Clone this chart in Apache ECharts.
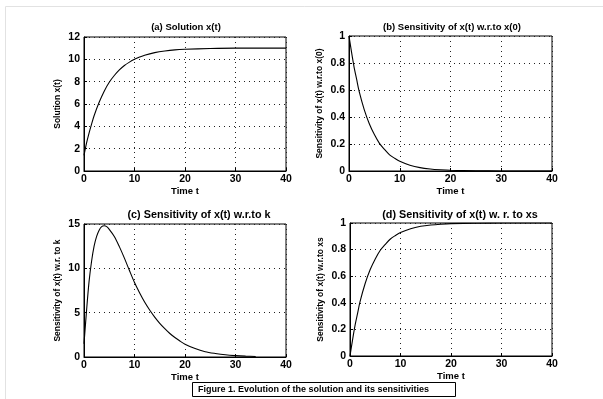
<!DOCTYPE html>
<html>
<head>
<meta charset="utf-8">
<script src="https://cdn.jsdelivr.net/npm/echarts@6/dist/echarts.min.js"></script>
<style>
html,body{margin:0;padding:0;background:#fff;}
#c{width:603px;height:399px;}
</style>
</head>
<body>
<div id="c"></div>
<script>
// ---- data ----
var tA = [0, 0.5, 1, 1.5, 2, 3, 4, 5, 6, 7, 8, 9, 10, 11, 12, 14, 16, 18, 20, 25, 30, 35, 40];
var solA = [1.4, 2.5, 3.4, 4.2, 4.95, 6.15, 7.15, 7.95, 8.55, 9.05, 9.45, 9.75, 10.0, 10.2, 10.37, 10.6, 10.75, 10.85, 10.9, 10.97, 11.0, 11.0, 11.0];

var tB = [0, 0.5, 1, 1.5, 2, 3, 4, 5, 6, 7, 8, 9, 10, 12, 14, 16, 18, 20, 25, 30, 35, 40];
var sensX0 = [1, 0.88, 0.77, 0.68, 0.59, 0.455, 0.35, 0.27, 0.205, 0.16, 0.12, 0.094, 0.072, 0.043, 0.025, 0.015, 0.009, 0.005, 0.0015, 0.0004, 0.0001, 0];

var tC = [0, 0.5, 1, 1.5, 2, 2.5, 3, 3.5, 4, 4.5, 5, 6, 7, 8, 9, 10, 11, 12, 13, 14, 15, 16, 17, 18, 19, 20, 22, 24, 26, 28, 30, 32, 34];
var sensK = [1.5, 5.2, 8.5, 10.8, 12.5, 13.6, 14.3, 14.7, 14.8, 14.7, 14.4, 13.6, 12.45, 11.15, 9.75, 8.4, 7.25, 6.2, 5.3, 4.5, 3.8, 3.2, 2.65, 2.2, 1.8, 1.45, 0.95, 0.6, 0.4, 0.25, 0.16, 0.1, 0.06];

var tD = [0, 0.5, 1, 1.5, 2, 3, 4, 5, 6, 7, 8, 9, 10, 12, 14, 16, 18, 20, 25, 30, 35, 40];
var sensXs = [0, 0.12, 0.23, 0.32, 0.41, 0.545, 0.65, 0.73, 0.795, 0.84, 0.88, 0.906, 0.928, 0.957, 0.975, 0.985, 0.991, 0.995, 0.9985, 0.9996, 0.9999, 1];

var xTicks = [0, 10, 20, 30, 40];
var panelTitles = ['(a) Solution x(t)', '(b) Sensitivity of x(t) w.r.to x(0)', '(c) Sensitivity of x(t) w.r.to k', '(d) Sensitivity of x(t) w. r. to xs'];
var yNames = ['Solution x(t)', 'Sensitivity of x(t) w.r.to x(0)', 'Sensitivity of x(t) w.r. to k', 'Sensitivity of x(t) w.r.to xs'];
var xName = 'Time t';
var caption = 'Figure 1. Evolution of the solution and its sensitivities';

// ---- layout ----
var FONT = '"Liberation Sans", Arial, Helvetica, sans-serif';
var grids = [
  {left: 84, top: 37, width: 202, height: 134},
  {left: 349, top: 36, width: 203, height: 135},
  {left: 84, top: 224, width: 202, height: 133},
  {left: 350, top: 223, width: 202, height: 133}
];
var yRanges = [[0, 12, 2], [0, 1, 0.2], [0, 15, 5], [0, 1, 0.2]];
var yGaps = [22, 25, 22, 25];
var titlePos = [[186, 27, 9.5], [452, 27, 9.5], [199, 215, 10.8], [460, 215, 10.8]];

function zip(t, v) { return t.map(function (x, i) { return [x, v[i]]; }); }
var seriesData = [zip(tA, solA), zip(tB, sensX0), zip(tC, sensK), zip(tD, sensXs)];

var option = {
  animation: false,
  backgroundColor: '#fff',
  grid: grids.map(function (g) {
    return Object.assign({show: true, borderColor: '#000', borderWidth: 1, backgroundColor: '#fff', containLabel: false}, g);
  }),
  xAxis: grids.map(function (g, i) {
    return {
      type: 'value', gridIndex: i, min: 0, max: 40, interval: 10,
      name: xName, nameLocation: 'middle', nameGap: 12,
      nameTextStyle: {fontFamily: FONT, fontWeight: 'bold', fontSize: 9.5, color: '#000'},
      axisLine: {show: true, lineStyle: {color: '#000', width: 1}},
      axisTick: {show: true, inside: true, length: 3, lineStyle: {color: '#000'}},
      axisLabel: {margin: 3, fontFamily: FONT, fontWeight: 'bold', fontSize: 10.5, color: '#000'},
      splitLine: {show: true, lineStyle: {color: '#222', width: 1, type: [1, 4]}}
    };
  }),
  yAxis: grids.map(function (g, i) {
    var r = yRanges[i];
    return {
      type: 'value', gridIndex: i, min: r[0], max: r[1], interval: r[2],
      name: yNames[i], nameLocation: 'middle', nameGap: yGaps[i], nameRotate: 90,
      nameTextStyle: {fontFamily: FONT, fontWeight: 'bold', fontSize: 8.5, color: '#000'},
      axisLine: {show: true, lineStyle: {color: '#000', width: 1}},
      axisTick: {show: true, inside: true, length: 3, lineStyle: {color: '#000'}},
      axisLabel: {margin: 4, fontFamily: FONT, fontWeight: 'bold', fontSize: 10.5, color: '#000'},
      splitLine: {show: true, lineStyle: {color: '#222', width: 1, type: [1, 4]}}
    };
  }),
  series: seriesData.map(function (d, i) {
    return {
      type: 'line', xAxisIndex: i, yAxisIndex: i, data: d,
      showSymbol: false, smooth: 0.3, clip: true,
      lineStyle: {color: '#000', width: 1.1}
    };
  }),
  graphic: [
    {type: 'line', shape: {x1: 5.5, y1: 6.5, x2: 603, y2: 6.5}, style: {stroke: '#e2e2e2', lineWidth: 1}, silent: true},
    {type: 'line', shape: {x1: 5.5, y1: 6.5, x2: 5.5, y2: 399}, style: {stroke: '#e2e2e2', lineWidth: 1}, silent: true},
    {type: 'rect', shape: {x: 192.5, y: 382.5, width: 263, height: 14}, style: {fill: '#fff', stroke: '#000', lineWidth: 1}, silent: true},
    {type: 'text', x: 198, y: 390, style: {text: caption, fontFamily: FONT, fontWeight: 'bold', fontSize: 9, fill: '#000', textAlign: 'left', textVerticalAlign: 'middle'}, silent: true}
  ].concat(panelTitles.map(function (t, i) {
    var p = titlePos[i];
    return {type: 'text', x: p[0], y: p[1], style: {text: t, fontFamily: FONT, fontWeight: 'bold', fontSize: p[2], fill: '#000', textAlign: 'center', textVerticalAlign: 'middle'}, silent: true};
  }))
};

var chart = echarts.init(document.getElementById('c'), null, {renderer: 'canvas'});
chart.setOption(option);
</script>
</body>
</html>
